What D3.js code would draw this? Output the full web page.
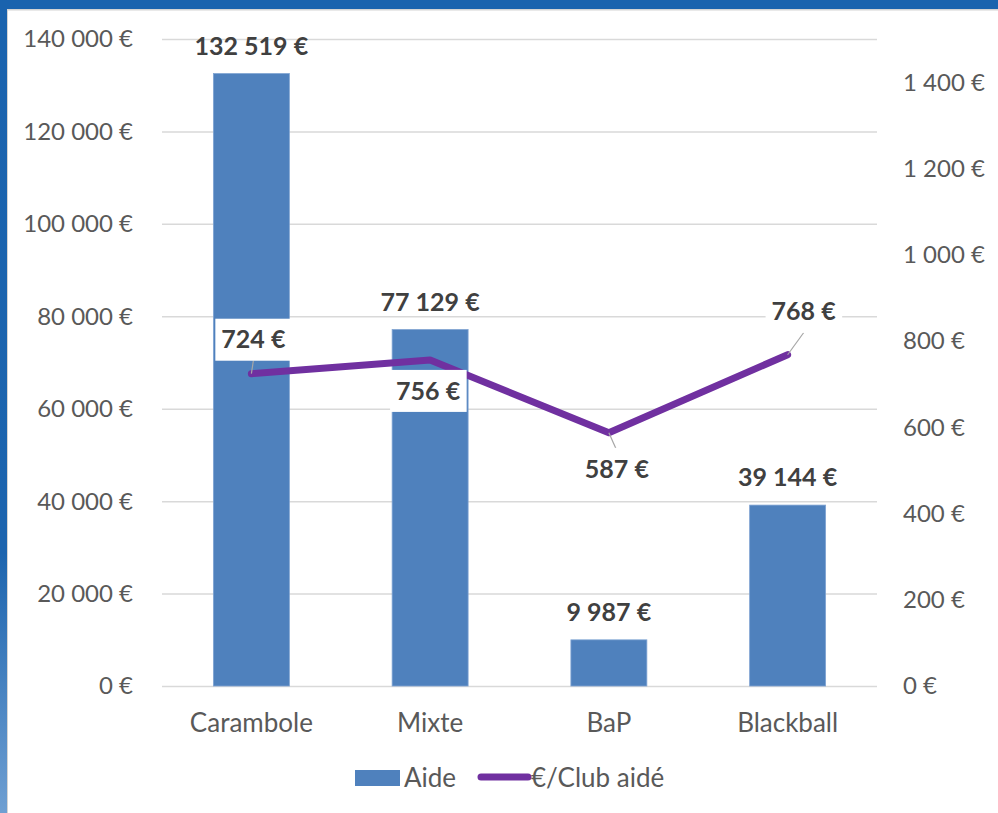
<!DOCTYPE html>
<html>
<head>
<meta charset="utf-8">
<script src="https://cdn.jsdelivr.net/npm/d3@7"></script>
<style>
  body { margin: 0; background: #fff; }
  svg { display: block; font-family: Lato, 'Open Sans', sans-serif; }
  .tick-label { fill: #595959; font-size: 24px; }
  .cat-label { fill: #595959; font-size: 26px; }
  .data-label { fill: #404040; font-size: 25px; font-weight: bold; }
</style>
</head>
<body>
<div id="chart"></div>
<script>
// Data
const categories = ['Carambole', 'Mixte', 'BaP', 'Blackball']
const aide = [132519, 77129, 9987, 39144]
const parClub = [724, 756, 587, 768]
const leftTicks = [0, 20000, 40000, 60000, 80000, 100000, 120000, 140000]
const rightTicks = [0, 200, 400, 600, 800, 1000, 1200, 1400]
const seriesNames = ['Aide', '€/Club aidé']

// Label placement around each line point (layout only)
const lineLabelOffsets = [[2, -34], [-2, 31], [8, 36], [16, -43]]
const showLeader = [true, false, true, true]

const width = 998
const height = 813
const plot = { left: 162, right: 877, top: 39, bottom: 686 }

const barColor = '#4f81bd'
const lineColor = '#7030a0'

const fr = d3.formatLocale({ decimal: ',', thousands: '\u00a0', grouping: [3], currency: ['', '\u00a0€'] })
const euro = fr.format('$,.0f')

const svg = d3.select('#chart')
  .append('svg')
  .attr('width', width)
  .attr('height', height)

// Frame like the original window
const grad = svg.append('defs').append('linearGradient')
  .attr('id', 'side').attr('x1', 0).attr('y1', 0).attr('x2', 0).attr('y2', 1)
grad.append('stop').attr('offset', '0%').attr('stop-color', '#1a63ae')
grad.append('stop').attr('offset', '68%').attr('stop-color', '#1c64ae')
grad.append('stop').attr('offset', '100%').attr('stop-color', '#6f9fd2')

svg.append('rect').attr('x', 0).attr('y', 9).attr('width', 8).attr('height', height).attr('fill', '#d4d4d4')
svg.append('rect').attr('x', 0).attr('y', 0).attr('width', 7).attr('height', height).attr('fill', 'url(#side)')
svg.append('rect').attr('x', 7).attr('y', 9).attr('width', width).attr('height', 1.5).attr('fill', '#d4d4d4')
svg.append('rect').attr('x', 0).attr('y', 0).attr('width', width).attr('height', 9).attr('fill', '#1a63ae')

// Scales
const x = d3.scaleBand()
  .domain(categories)
  .range([plot.left, plot.right])
  .paddingInner(0.575)
  .paddingOuter(0.2875)

const yLeft = d3.scaleLinear().domain([0, 140000]).range([plot.bottom, plot.top])
const yRight = d3.scaleLinear().domain([0, 1500]).range([plot.bottom, plot.top])

// Gridlines
svg.append('g')
  .attr('transform', `translate(${plot.left},0)`)
  .call(d3.axisLeft(yLeft).tickValues(leftTicks).tickSize(-(plot.right - plot.left)).tickFormat(''))
  .call(g => g.select('.domain').remove())
  .call(g => g.selectAll('line').attr('stroke', '#d9d9d9').attr('stroke-width', 1.5))

// Left axis labels
svg.append('g')
  .selectAll('text')
  .data(leftTicks)
  .join('text')
  .attr('class', 'tick-label')
  .attr('x', 133)
  .attr('y', d => yLeft(d))
  .attr('dy', '0.35em')
  .attr('text-anchor', 'end')
  .text(d => euro(d))

// Right axis labels
svg.append('g')
  .selectAll('text')
  .data(rightTicks)
  .join('text')
  .attr('class', 'tick-label')
  .attr('x', 903)
  .attr('y', d => yRight(d))
  .attr('dy', '0.35em')
  .text(d => euro(d))

// Category labels
svg.append('g')
  .selectAll('text')
  .data(categories)
  .join('text')
  .attr('class', 'cat-label')
  .attr('x', d => x(d) + x.bandwidth() / 2)
  .attr('y', 732)
  .attr('text-anchor', 'middle')
  .text(d => d)

// Bars
svg.append('g')
  .selectAll('rect')
  .data(aide)
  .join('rect')
  .attr('x', (d, i) => x(categories[i]))
  .attr('y', d => yLeft(d))
  .attr('width', x.bandwidth())
  .attr('height', d => yLeft(0) - yLeft(d))
  .attr('fill', barColor)
  .attr('stroke', '#7fa3d2')
  .attr('stroke-width', 0.8)

// Bar labels
svg.append('g')
  .selectAll('text')
  .data(aide)
  .join('text')
  .attr('class', 'data-label')
  .attr('x', (d, i) => x(categories[i]) + x.bandwidth() / 2)
  .attr('y', d => yLeft(d) - 19)
  .attr('text-anchor', 'middle')
  .text(d => euro(d))

// Line
const linePoints = parClub.map((d, i) => [x(categories[i]) + x.bandwidth() / 2, yRight(d)])

svg.append('path')
  .datum(linePoints)
  .attr('d', d3.line())
  .attr('fill', 'none')
  .attr('stroke', lineColor)
  .attr('stroke-width', 7)
  .attr('stroke-linecap', 'round')
  .attr('stroke-linejoin', 'round')

// Line labels with white boxes and leader lines
const labelGroup = svg.append('g')
linePoints.forEach((p, i) => {
  const cx = p[0] + lineLabelOffsets[i][0]
  const cy = p[1] + lineLabelOffsets[i][1]
  const g = labelGroup.append('g')
  const box = g.append('rect').attr('fill', '#fff')
  const t = g.append('text')
    .attr('class', 'data-label')
    .attr('x', cx)
    .attr('y', cy)
    .attr('dy', '0.35em')
    .attr('text-anchor', 'middle')
    .text(euro(parClub[i]))
  const bb = t.node().getBBox()
  const padX = 6
  const boxH = 42
  box.attr('x', bb.x - padX)
    .attr('y', cy - boxH / 2)
    .attr('width', bb.width + padX * 2)
    .attr('height', boxH)

  if (showLeader[i]) {
    const edgeY = cy > p[1] ? cy - boxH / 2 + 3 : cy + boxH / 2
    labelGroup.insert('line', ':first-child')
      .attr('x1', p[0]).attr('y1', p[1])
      .attr('x2', cx).attr('y2', edgeY)
      .attr('stroke', '#a6a6a6')
      .attr('stroke-width', 1.2)
  }
})

// Legend
const legend = svg.append('g')
legend.append('rect')
  .attr('x', 355).attr('y', 770)
  .attr('width', 45).attr('height', 16)
  .attr('fill', barColor)
legend.append('text')
  .attr('class', 'cat-label')
  .attr('x', 404).attr('y', 778)
  .attr('dy', '0.35em')
  .text(seriesNames[0])
legend.append('line')
  .attr('x1', 481).attr('x2', 528)
  .attr('y1', 777).attr('y2', 777)
  .attr('stroke', lineColor)
  .attr('stroke-width', 7)
  .attr('stroke-linecap', 'round')
legend.append('text')
  .attr('class', 'cat-label')
  .attr('x', 531).attr('y', 778)
  .attr('dy', '0.35em')
  .text(seriesNames[1])
</script>
</body>
</html>
